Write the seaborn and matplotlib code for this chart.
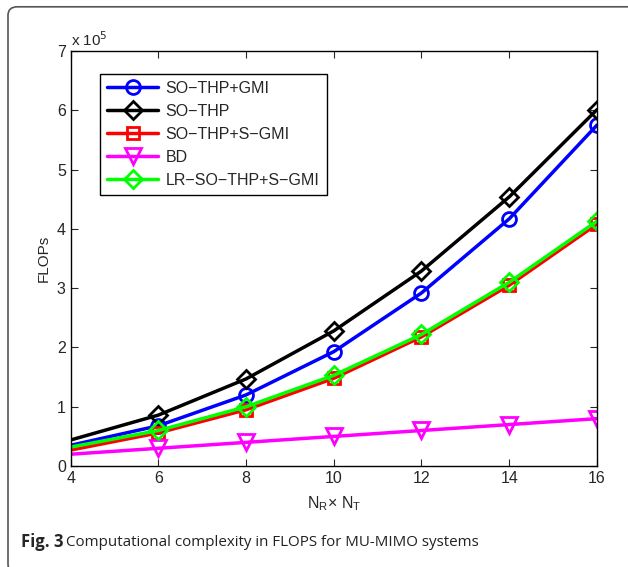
import numpy as np
import pandas as pd
import seaborn as sns
import matplotlib.pyplot as plt
from matplotlib.patches import FancyBboxPatch
from matplotlib.ticker import FuncFormatter

# antenna configuration N_R x N_T
n_ant = [4, 6, 8, 10, 12, 14, 16]

# FLOPs (units of 1e5)
so_thp_gmi = [0.35, 0.68, 1.20, 1.93, 2.92, 4.17, 5.75]
so_thp = [0.44, 0.86, 1.47, 2.28, 3.29, 4.54, 6.01]
so_thp_sgmi = [0.27, 0.56, 0.95, 1.48, 2.18, 3.05, 4.08]
bd = [0.20, 0.30, 0.40, 0.50, 0.60, 0.70, 0.80]
lr_so_thp_sgmi = [0.32, 0.60, 1.00, 1.53, 2.22, 3.10, 4.13]

names = ['SO\u2212THP+GMI', 'SO\u2212THP', 'SO\u2212THP+S\u2212GMI', 'BD', 'LR\u2212SO\u2212THP+S\u2212GMI']
series = [so_thp_gmi, so_thp, so_thp_sgmi, bd, lr_so_thp_sgmi]
colors = ['#0000ff', '#000000', '#ff0000', '#ff00ff', '#00ff00']
markers = ['o', 'D', 's', 'v', 'D']
msizes = [10, 9, 8, 11, 9]

sns.set_style('ticks')
plt.rcParams['font.family'] = ['Liberation Sans', 'DejaVu Sans']

fig = plt.figure(figsize=(6.28, 5.67), dpi=100)
ax = fig.add_axes([0.1125, 0.178, 0.838, 0.732])

for name, vals, c, m, ms in zip(names, series, colors, markers, msizes):
    df = pd.DataFrame({'n': n_ant, 'flops': np.array(vals) * 1e5})
    sns.lineplot(data=df, x='n', y='flops', ax=ax, color=c, marker=m,
                 markersize=ms, markerfacecolor='none', markeredgecolor=c,
                 markeredgewidth=2, linewidth=2.5, markevery=list(range(1, 7)),
                 label=name)

ax.set_xlim(4, 16)
ax.set_ylim(0, 7e5)
ax.set_xticks([4, 6, 8, 10, 12, 14, 16])
ax.set_yticks(np.arange(0, 8) * 1e5)
ax.yaxis.set_major_formatter(FuncFormatter(lambda v, p: '%d' % round(v / 1e5)))
ax.tick_params(direction='in', top=True, right=True, labelsize=11.5, length=5, width=0.8)
for s in ax.spines.values():
    s.set_linewidth(1.0)
    s.set_color('black')
ax.text(0.0, 1.005, 'x 10$^5$', transform=ax.transAxes, fontsize=11, va='bottom', ha='left')
ax.set_xlabel('N$_\\mathregular{R}$\u00d7 N$_\\mathregular{T}$', fontsize=11.5, labelpad=6)
ax.set_ylabel('FLOPs', fontsize=11, labelpad=4)

leg = ax.legend(loc='upper left', bbox_to_anchor=(0.056, 0.945), fontsize=11.5,
                frameon=True, fancybox=False, edgecolor='black', framealpha=1,
                borderaxespad=0, handlelength=3.2, borderpad=0.45, labelspacing=0.5,
                handletextpad=0.45)
leg.get_frame().set_linewidth(1.0)

# outer frame and caption
frame = FancyBboxPatch((8 / 628, -0.01), 1.2, 0.998, boxstyle='round,pad=0,rounding_size=0.015',
                       transform=fig.transFigure, fill=False, edgecolor='#555555', linewidth=1.2)
fig.patches.append(frame)
fig.text(21 / 628, 1 - 542 / 567, 'Fig. 3', fontsize=12, fontweight='bold',
         family=['Open Sans', 'DejaVu Sans'], va='center', ha='left')
fig.text(66 / 628, 1 - 542 / 567, 'Computational complexity in FLOPS for MU-MIMO systems',
         fontsize=10.9, family=['Open Sans', 'DejaVu Sans'], va='center', ha='left', color='#222222')

plt.savefig('out.png', dpi=100)
